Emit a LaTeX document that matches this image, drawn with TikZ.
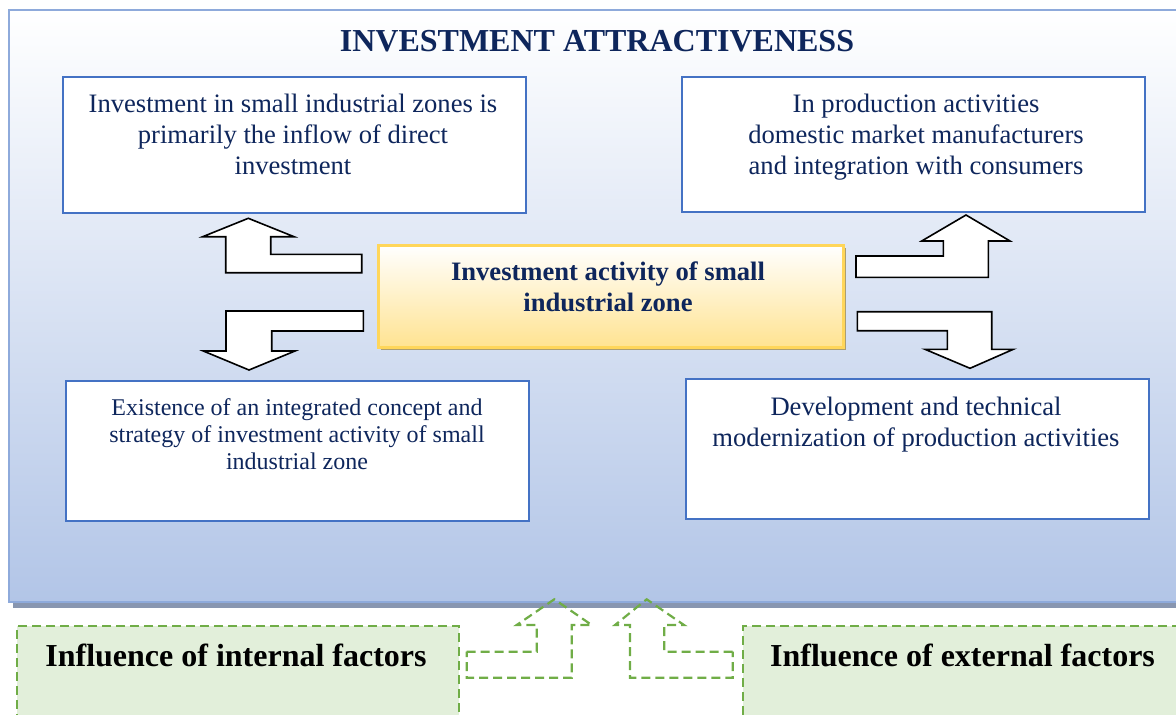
\documentclass[tikz,border=0pt]{standalone}
\usepackage{fontspec}
\setmainfont{Liberation Serif}

\definecolor{navy}{RGB}{14,38,92}
\definecolor{frameblue}{RGB}{142,170,219}
\definecolor{panelbottom}{RGB}{178,197,231}
\definecolor{panelshadow}{RGB}{136,150,176}
\definecolor{boxblue}{RGB}{68,114,196}
\definecolor{goldline}{RGB}{255,214,90}
\definecolor{goldfill}{RGB}{255,227,145}
\definecolor{goldshadow}{RGB}{172,158,112}
\definecolor{leafgreen}{RGB}{112,173,71}
\definecolor{palegreen}{RGB}{226,239,218}

\tikzset{
  infobox/.style={draw=boxblue, line width=2pt, fill=white, anchor=north west, inner sep=0pt},
  bodytext/.style={anchor=north, inner sep=0pt, align=center, text=navy,
    font=\fontsize{26.6}{30.8}\selectfont},
  smalltext/.style={anchor=north, inner sep=0pt, align=center, text=navy,
    font=\fontsize{24}{27.2}\selectfont},
  blockarrow/.style={draw=black, line width=1.6pt, fill=white, line join=miter},
  dasharrow/.style={draw=leafgreen, line width=2.2pt, dash pattern=on 9pt off 5pt, line join=miter},
  factorbox/.style={draw=leafgreen, line width=2.2pt, dash pattern=on 9pt off 5pt,
    fill=palegreen, anchor=north west, inner sep=0pt},
  factortext/.style={anchor=north, inner sep=0pt, text=black,
    font=\fontsize{32}{36}\selectfont\bfseries},
}

\begin{document}
\begin{tikzpicture}[x=1pt, y=-1pt]
\useasboundingbox (0,0) rectangle (1176,715);
\begin{scope}
\clip (0,0) rectangle (1176,715);

% outer panel with its drop shadow
\fill[panelshadow] (13,14) rectangle (1190,608);
\draw[frameblue, line width=2pt, top color=white, bottom color=panelbottom]
  (9,10) rectangle (1186,602);

\node[text=navy, anchor=north, inner sep=0pt, font=\fontsize{32}{36}\selectfont\bfseries]
  (title) at (597,30) {INVESTMENT ATTRACTIVENESS};

% four outer boxes
\node[infobox, minimum width=463, minimum height=136] (tlbox) at (62,76) {};
\node[infobox, minimum width=463, minimum height=135] (trbox) at (681,76) {};
\node[infobox, minimum width=463, minimum height=140] (blbox) at (65,380) {};
\node[infobox, minimum width=463, minimum height=140] (brbox) at (685,378) {};

\node[bodytext] (tltext) at (293,94)
  {Investment in small industrial zones is\\primarily the inflow of direct\\investment};
\node[bodytext] (trtext) at (916,94)
  {In production activities\\domestic market manufacturers\\and integration with consumers};
\node[smalltext] (bltext) at (297,398)
  {Existence of an integrated concept and\\strategy of investment activity of small\\industrial zone};
\node[bodytext] (brtext) at (916,397)
  {Development and technical\\modernization of production activities};

% central box with shadow
\fill[goldshadow] (381,248) rectangle (846,350);
\node[draw=goldline, line width=2.5pt, top color=white, bottom color=goldfill,
  anchor=north west, minimum width=465, minimum height=102, inner sep=0pt]
  (core) at (377,244) {};
\node[anchor=north, inner sep=0pt, align=center, text=navy,
  font=\fontsize{26.6}{30.8}\selectfont\bfseries]
  (coretext) at (608,262) {Investment activity of small\\industrial zone};

% block arrows, left side
\draw[blockarrow] (361.7,254.3) -- (270.7,254.3) -- (270.7,236.7) -- (294,236.7)
  -- (248.3,218.3) -- (202.7,236.7) -- (225.7,236.7) -- (225.7,272.7)
  -- (361.7,272.7) -- cycle;
\draw[blockarrow] (363.3,311) -- (226,311) -- (226,351) -- (203.3,351)
  -- (249,370) -- (295,351) -- (271.7,351) -- (271.7,331) -- (363.3,331) -- cycle;

% block arrows, right side
\draw[blockarrow] (856,256) -- (943.3,256) -- (943.3,241) -- (921.7,241)
  -- (966,215) -- (1010,241) -- (988.3,241) -- (988.3,277.3) -- (856,277.3) -- cycle;
\draw[blockarrow] (857.3,311.7) -- (991.7,311.7) -- (991.7,349.3) -- (1013.3,349.3)
  -- (970,368.3) -- (925,349.3) -- (947.3,349.3) -- (947.3,330.7) -- (857.3,330.7) -- cycle;

% factor boxes
\node[factorbox, minimum width=442, minimum height=120] (intbox) at (16,625) {};
\node[factorbox, minimum width=460, minimum height=120] (extbox) at (742,625) {};
\node[factortext] (inttext) at (236,644) {Influence of internal factors};
\node[factortext] (exttext) at (962.5,644) {Influence of external factors};

% dashed arrows pointing into the panel
\draw[dasharrow] (466.7,651.7) -- (536.7,651.7) -- (536.7,625) -- (516.7,625)
  -- (554.3,599.3) -- (591.7,625) -- (571.7,625) -- (571.7,677.7) -- (466.7,677.7) -- cycle;
\draw[dasharrow] (732.7,651.7) -- (664.3,651.7) -- (664.3,625) -- (684,625)
  -- (646.7,599.3) -- (615,625) -- (630,625) -- (630,677.7) -- (732.7,677.7) -- cycle;
\end{scope}
\end{tikzpicture}
\end{document}
